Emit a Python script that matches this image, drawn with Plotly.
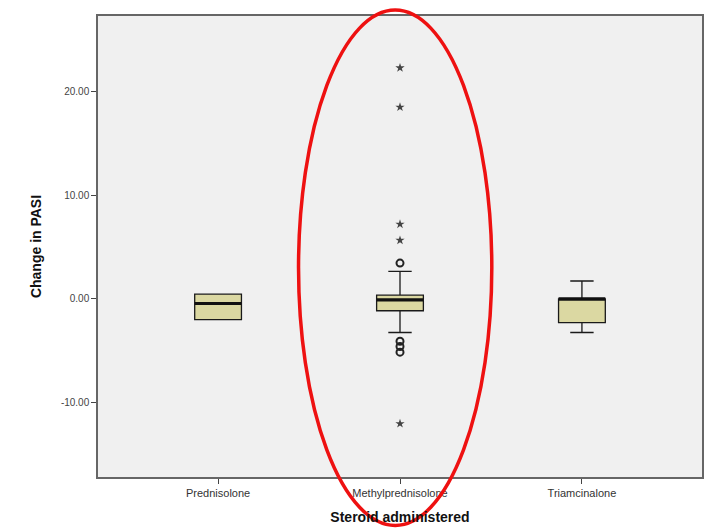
import plotly.graph_objects as go

categories = ["Prednisolone", "Methylprednisolone", "Triamcinalone"]
q1 = [-2.0, -1.15, -2.3]
median = [-0.45, -0.1, 0.0]
q3 = [0.45, 0.35, 0.0]
lower_whisker = [-2.0, -3.25, -3.25]
upper_whisker = [0.45, 2.65, 1.72]

# outliers (Methylprednisolone only)
circle_outliers = [3.45, -4.1, -4.6, -5.15]
star_outliers = [22.3, 18.5, 7.2, 5.65, -12.05]
outlier_group = 1

ytick_vals = [-10, 0, 10, 20]
ytick_text = ["-10.00", "0.00", "10.00", "20.00"]

box_w = 0.257
fill = "#dbd8a2"

fig = go.Figure()
for i, c in enumerate(categories):
    fig.add_trace(go.Box(
        x=[i], q1=[q1[i]], median=[median[i]], q3=[q3[i]],
        lowerfence=[lower_whisker[i]], upperfence=[upper_whisker[i]],
        width=box_w, whiskerwidth=0.5, fillcolor=fill,
        line=dict(color="#1a1a1a", width=1.3), boxpoints=False,
        name=c, showlegend=False, hoverinfo="skip"))
    fig.add_trace(go.Scatter(
        x=[i - box_w / 2, i + box_w / 2], y=[median[i], median[i]],
        mode="lines", line=dict(color="#111111", width=3.2),
        showlegend=False, hoverinfo="skip"))

fig.add_trace(go.Scatter(
    x=[outlier_group] * len(circle_outliers), y=circle_outliers, mode="markers",
    marker=dict(symbol="circle-open", size=7, color="#222222", line=dict(width=2)),
    showlegend=False))
fig.add_trace(go.Scatter(
    x=[outlier_group] * len(star_outliers), y=star_outliers, mode="markers",
    marker=dict(symbol="star", size=7, color="#444444"),
    showlegend=False))

fig.add_shape(type="circle", xref="paper", yref="paper",
              x0=0.332, x1=0.652, y0=-0.105, y1=1.013,
              line=dict(color="#ee1111", width=3.5), layer="above")

fig.update_layout(
    width=707, height=521,
    margin=dict(l=90, r=13, t=6, b=50),
    paper_bgcolor="white", plot_bgcolor="#f0f0f0",
    font=dict(family="Liberation Sans, Arial, sans-serif", color="#333333"),
    xaxis=dict(range=[-0.66, 2.66], tickvals=[0, 1, 2], ticktext=categories,
               ticks="outside", ticklen=5, tickcolor="#444444",
               tickfont=dict(size=11, color="#333333"),
               showgrid=False, zeroline=False,
               showline=True, mirror=True, linecolor="#666666", linewidth=1.5,
               title=dict(text="Steroid administered", standoff=14,
                          font=dict(size=14, color="#111111", weight="bold"))),
    yaxis=dict(range=[-17.2, 27.3], tickvals=ytick_vals, ticktext=ytick_text,
               ticks="outside", ticklen=5, tickcolor="#444444",
               tickfont=dict(size=10, color="#444444"),
               showgrid=False, zeroline=False,
               showline=True, mirror=True, linecolor="#666666", linewidth=1.5,
               title=dict(text="Change in PASI", standoff=16,
                          font=dict(size=14, color="#111111", weight="bold"))),
)

fig.write_html("out.html")
